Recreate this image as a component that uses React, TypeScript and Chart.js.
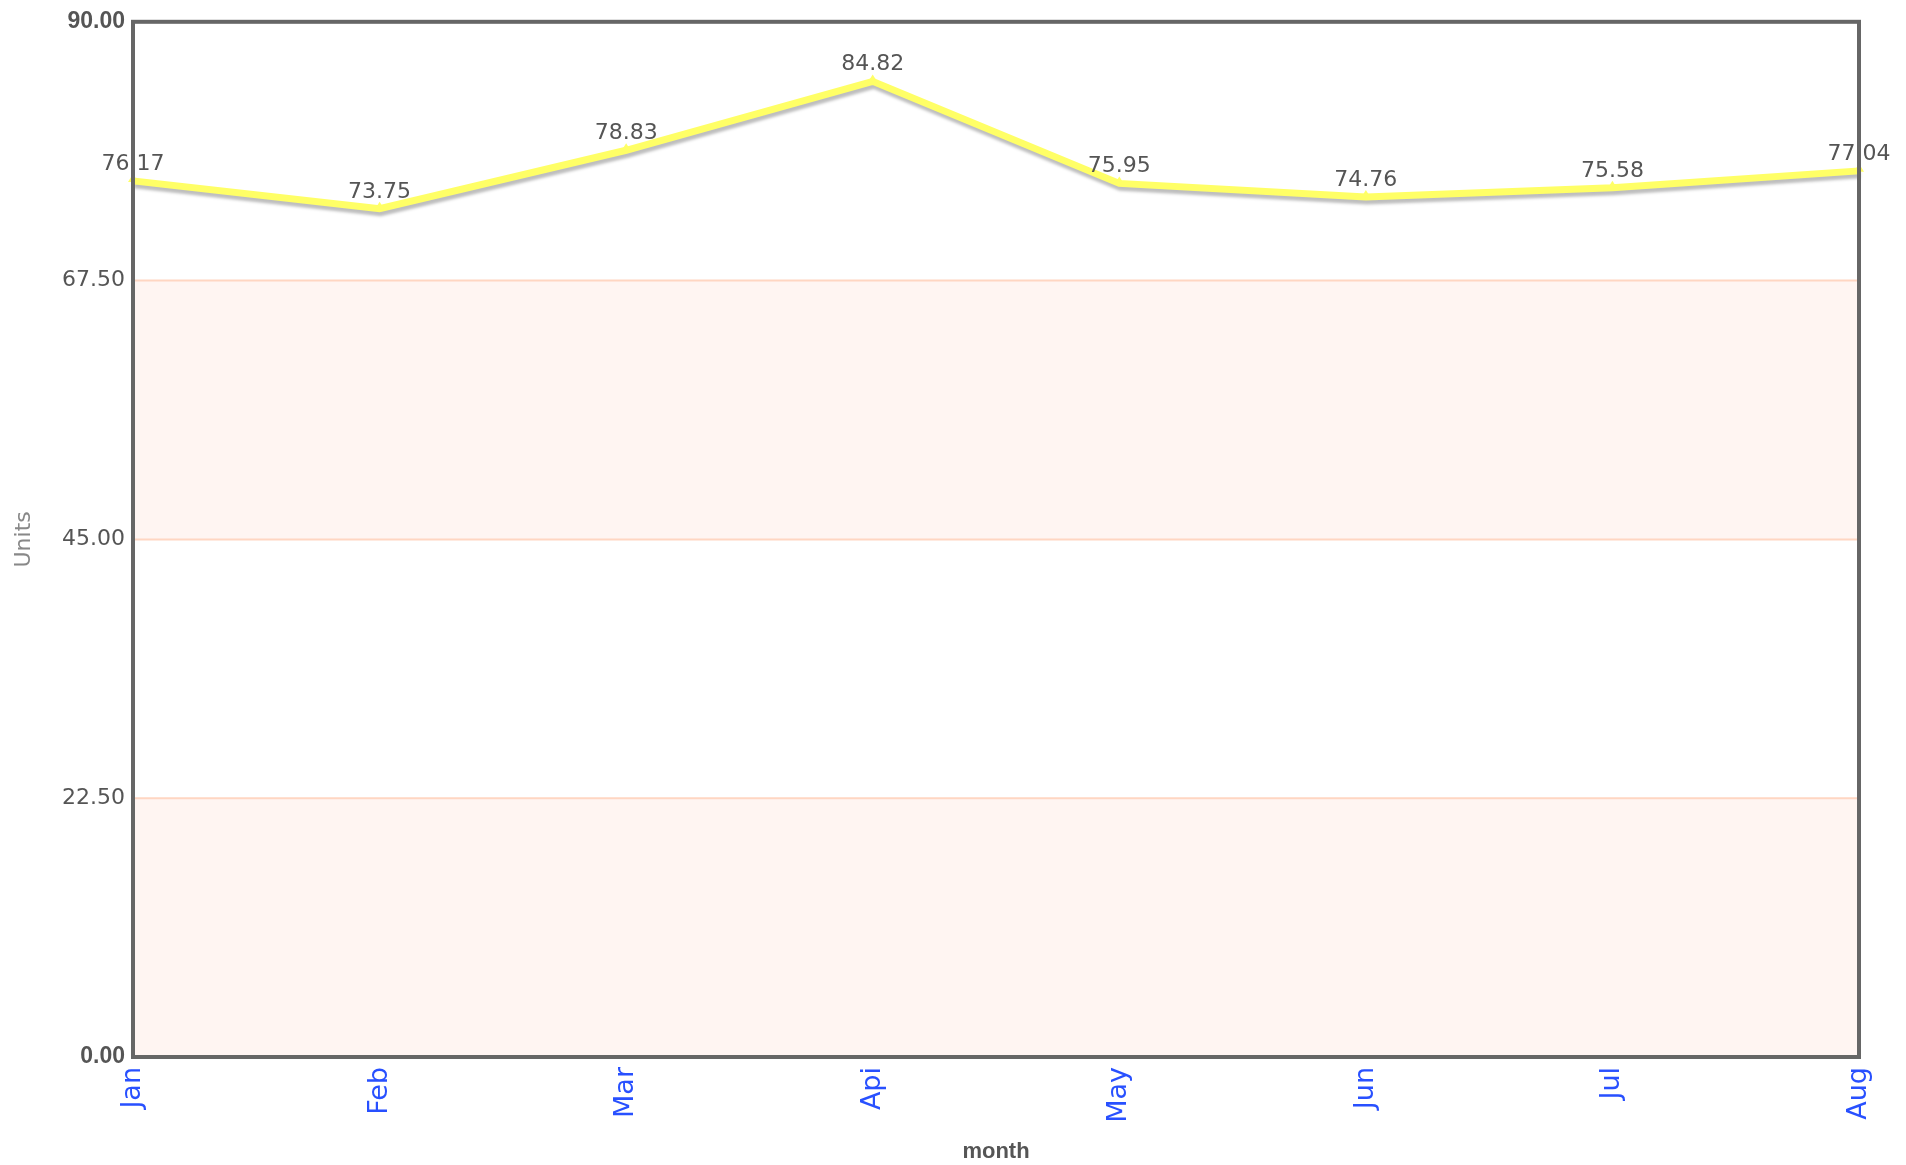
import React, { useEffect, useRef } from "react";
import { Chart, registerables } from "chart.js";

Chart.register(...registerables);

const months = ["Jan", "Feb", "Mar", "Api", "May", "Jun", "Jul", "Aug"];
const unitsValues = [76.17, 73.75, 78.83, 84.82, 75.95, 74.76, 75.58, 77.04];
const yMin = 0;
const yMax = 90;
const yStep = 22.5;

const W = 1906;
const H = 1165;

const decorPlugin = {
  id: "decor",
  beforeDatasetsDraw(chart: any) {
    const { ctx, chartArea, scales } = chart;
    const y = scales.y;
    ctx.save();
    const ticks = y.ticks.map((t: any) => t.value);
    for (let i = 0; i < ticks.length - 1; i++) {
      if (i % 2 === 0) {
        const p1 = y.getPixelForValue(ticks[i]);
        const p2 = y.getPixelForValue(ticks[i + 1]);
        ctx.fillStyle = "#fff5f2";
        ctx.fillRect(chartArea.left, Math.min(p1, p2), chartArea.right - chartArea.left, Math.abs(p1 - p2));
      }
    }
    ctx.strokeStyle = "#ffd6c2";
    ctx.lineWidth = 2;
    for (const v of ticks) {
      const p = y.getPixelForValue(v);
      ctx.beginPath();
      ctx.moveTo(chartArea.left, p);
      ctx.lineTo(chartArea.right, p);
      ctx.stroke();
    }
    ctx.restore();
    ctx.save();
    ctx.shadowColor = "rgba(0,0,0,0.26)";
    ctx.shadowOffsetX = 1;
    ctx.shadowOffsetY = 4;
    ctx.shadowBlur = 3;
  },
  afterDatasetsDraw(chart: any) {
    const { ctx } = chart;
    ctx.restore();
    const meta = chart.getDatasetMeta(0);
    const data = chart.data.datasets[0].data as number[];
    ctx.save();
    ctx.fillStyle = "#ffff66";
    meta.data.forEach((el: any) => {
      ctx.beginPath();
      ctx.moveTo(el.x, el.y - 7);
      ctx.lineTo(el.x - 5, el.y + 1);
      ctx.lineTo(el.x + 5, el.y + 1);
      ctx.closePath();
      ctx.fill();
    });
    ctx.font = "22px 'DejaVu Sans'";
    ctx.fillStyle = "#555555";
    ctx.textAlign = "center";
    ctx.textBaseline = "alphabetic";
    meta.data.forEach((el: any, i: number) => {
      ctx.fillText(data[i].toFixed(2), el.x, el.y - 11);
    });
    ctx.restore();
  },
  afterDraw(chart: any) {
    const { ctx, chartArea } = chart;
    ctx.save();
    ctx.strokeStyle = "#666666";
    ctx.lineWidth = 4;
    ctx.strokeRect(chartArea.left, chartArea.top, chartArea.right - chartArea.left, chartArea.bottom - chartArea.top);
    ctx.restore();
  },
};

export default function App() {
  const ref = useRef<HTMLCanvasElement>(null);
  useEffect(() => {
    if (!ref.current) return;
    const chart = new Chart(ref.current, {
      type: "line",
      data: {
        labels: months,
        datasets: [
          {
            label: "Units",
            data: unitsValues,
            borderColor: "#ffff66",
            backgroundColor: "#ffff66",
            borderWidth: 7,
            pointRadius: 0,
            pointHoverRadius: 0,
            tension: 0,
            clip: false as any,
          },
        ],
      },
      options: {
        responsive: false,
        animation: false,
        layout: { padding: { top: 21, right: 47, left: 0, bottom: 0 } },
        plugins: {
          legend: { display: false },
          tooltip: { enabled: false },
        },
        scales: {
          x: {
            type: "category",
            offset: false,
            grid: { display: false, drawTicks: false },
            border: { display: false },
            ticks: {
              minRotation: 90,
              maxRotation: 90,
              autoSkip: false,
              padding: 10,
              color: "#2850ff",
              font: { family: "'DejaVu Sans'", size: 27 },
            },
            title: {
              display: true,
              text: "month",
              color: "#555555",
              font: { family: "'Liberation Sans'", size: 22, weight: "bold" },
              padding: { top: 0, bottom: 0 },
            },
            afterFit(scale: any) {
              scale.height = 108;
            },
          },
          y: {
            min: yMin,
            max: yMax,
            grid: { display: false, drawTicks: false },
            border: { display: false },
            ticks: {
              stepSize: yStep,
              padding: 8,
              color: "#555555",
              callback: (v: any) => Number(v).toFixed(2),
              font: (ctx: any) => {
                const v = ctx.tick ? ctx.tick.value : null;
                if (v === yMin || v === yMax) {
                  return { family: "'Liberation Sans'", size: 23, weight: "bold" };
                }
                return { family: "'DejaVu Sans'", size: 22 };
              },
            },
            title: {
              display: true,
              text: "Units",
              color: "#888888",
              font: { family: "'DejaVu Sans'", size: 22 },
              padding: { top: 11, bottom: 0 },
            },
            afterFit(scale: any) {
              scale.width = 133;
            },
          },
        },
      },
      plugins: [decorPlugin],
    });
    return () => chart.destroy();
  }, []);
  return (
    <div style={{ position: "fixed", left: 0, top: 0, width: W, height: H, background: "#ffffff" }}>
      <canvas ref={ref} width={W} height={H} style={{ display: "block" }} />
    </div>
  );
}
